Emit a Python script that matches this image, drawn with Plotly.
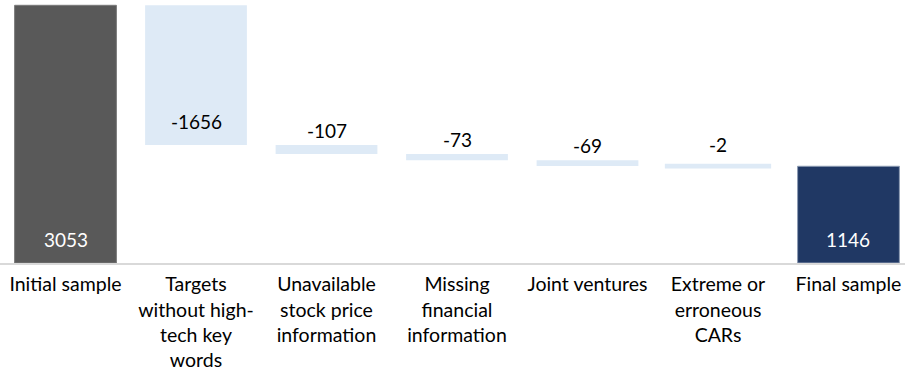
import plotly.graph_objects as go

categories = [
    "Initial sample",
    "Targets<br>without high-<br>tech key<br>words",
    "Unavailable<br>stock price<br>information",
    "Missing<br>financial<br>information",
    "Joint ventures",
    "Extreme or<br>erroneous<br>CARs",
    "Final sample",
]
values = [3053, -1656, -107, -73, -69, -2, 1146]
kinds = ["total", "delta", "delta", "delta", "delta", "delta", "total"]
label_pos = ["inside", "inside", "outside", "outside", "outside", "outside", "inside"]

TOTAL_FIRST = "#595959"
DELTA = "#DEEAF6"
TOTAL_LAST = "#203864"

bases, heights, colors, edge_colors, text_colors = [], [], [], [], []
running = 0
for i, (v, k) in enumerate(zip(values, kinds)):
    if k == "total":
        bases.append(0)
        heights.append(v)
        running = v
        if i == 0:
            colors.append(TOTAL_FIRST)
            edge_colors.append("#7A7A7A")
        else:
            colors.append(TOTAL_LAST)
            edge_colors.append("#8C9BB3")
        text_colors.append("white")
    else:
        running += v
        bases.append(running)
        heights.append(-v)
        colors.append(DELTA)
        edge_colors.append(DELTA)
        text_colors.append("#000000")

# tiny bars get a minimum visible thickness via an outline of the same colour
line_w = []
for k, h in zip(kinds, heights):
    if k == "total":
        line_w.append(1)
    elif h < 20:
        line_w.append(4.5)
    else:
        line_w.append(0)

fig = go.Figure()
fig.add_trace(go.Bar(
    x=categories,
    y=heights,
    base=bases,
    width=0.78,
    marker=dict(color=colors, line=dict(color=edge_colors, width=line_w)),
    hoverinfo="skip",
))

annotations = []
for c, b, h, p, tc, v, k, lw in zip(categories, bases, heights, label_pos,
                                    text_colors, values, kinds, line_w):
    if p == "inside":
        annotations.append(dict(x=c, y=b, text=str(v), showarrow=False,
                                yanchor="middle", yshift=24,
                                font=dict(color=tc, size=19, family="Lato")))
    else:
        extra = lw * 1.5 if k == "delta" else 0
        annotations.append(dict(x=c, y=b + h, text=str(v), showarrow=False,
                                yanchor="middle", yshift=15 + extra,
                                font=dict(color=tc, size=19, family="Lato")))

fig.update_layout(
    width=905, height=376,
    margin=dict(l=0, r=0, t=0, b=113),
    plot_bgcolor="white", paper_bgcolor="white",
    showlegend=False,
    font=dict(family="Lato", size=19.5, color="#000000"),
    annotations=annotations,
    xaxis=dict(
        type="category",
        range=[-0.502, 6.433],
        showline=True, linecolor="#D9D9D9", linewidth=1.5,
        showgrid=False, ticks="",
        tickfont=dict(family="Lato", size=19.5, color="#000000"),
        tickangle=0,
        ticklabelstandoff=3,
    ),
    yaxis=dict(
        range=[0, 3115.8],
        visible=False, showgrid=False, zeroline=False,
    ),
)

fig.write_html("out.html")
